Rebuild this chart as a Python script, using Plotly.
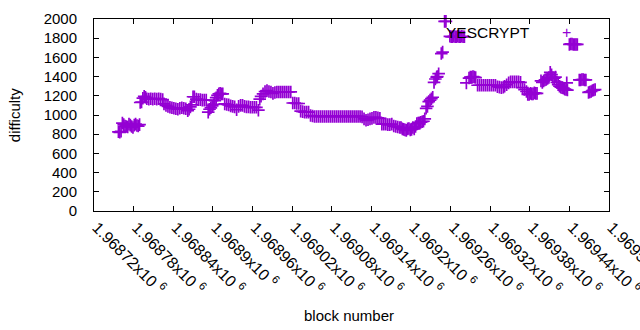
import plotly.graph_objects as go

block = [
    # ~830-900
    1968757, 1968759, 1968761, 1968763, 1968765, 1968767, 1968769, 1968771, 1968773, 1968775, 1968777,
    1968779, 1968781, 1968783, 1968785, 1968787, 1968789,
    # ~1170
    1968790, 1968792, 1968794, 1968796, 1968798, 1968800, 1968803, 1968806, 1968809, 1968812, 1968815,
    1968818, 1968821, 1968824,
    # ~1070
    1968826, 1968829, 1968832, 1968835, 1968838, 1968841, 1968844, 1968847, 1968850, 1968853, 1968856,
    1968859, 1968862, 1968864, 1968866, 1968868,
    # ~1160
    1968870, 1968872, 1968875, 1968878, 1968881, 1968884, 1968887, 1968890,
    # rise
    1968893, 1968895, 1968897, 1968899, 1968901, 1968903, 1968905, 1968907, 1968909, 1968911, 1968913, 1968915,
    # ~1090
    1968918, 1968921, 1968924, 1968927, 1968930, 1968933, 1968936, 1968939, 1968942, 1968945, 1968948,
    1968951, 1968954, 1968957, 1968960, 1968963, 1968966, 1968969,
    # ~1240
    1968971, 1968973, 1968976, 1968979, 1968982, 1968985, 1968988, 1968991, 1968994, 1968997, 1969000,
    1969003, 1969006, 1969009, 1969012, 1969015, 1969018,
    # ~1120 / ~1030
    1969021, 1969024, 1969027, 1969030, 1969033, 1969036, 1969039, 1969042, 1969045,
    # ~985
    1969048, 1969051, 1969054, 1969057, 1969060, 1969063, 1969066, 1969069, 1969072, 1969075, 1969078,
    1969081, 1969084, 1969087, 1969090, 1969093, 1969096, 1969099, 1969102, 1969105, 1969108, 1969111,
    1969114, 1969117, 1969120, 1969123, 1969126,
    # ~960 / ~900
    1969129, 1969132, 1969135, 1969138, 1969141, 1969144, 1969147, 1969150, 1969153, 1969156, 1969159,
    1969162, 1969165, 1969168, 1969171, 1969174, 1969177, 1969180, 1969183,
    # ~850
    1969185, 1969187, 1969189, 1969191, 1969193, 1969195, 1969197, 1969199, 1969201, 1969203, 1969205,
    1969207, 1969209, 1969211, 1969213, 1969215, 1969217, 1969219, 1969221,
    # steep rise
    1969223, 1969225, 1969227, 1969229, 1969231, 1969233, 1969235, 1969237, 1969239, 1969240, 1969242,
    1969246, 1969248, 1969251, 1969253,
    # ~1815
    1969259, 1969261, 1969263, 1969265, 1969267, 1969269, 1969271, 1969273, 1969275, 1969277, 1969279, 1969281,
    # ~1310
    1969284, 1969288, 1969290, 1969292, 1969294, 1969296, 1969298, 1969301, 1969304, 1969307, 1969310,
    1969313, 1969316, 1969319, 1969322, 1969325, 1969328, 1969331, 1969334, 1969337, 1969340, 1969342,
    1969345, 1969348, 1969351, 1969354, 1969357, 1969360, 1969363, 1969366,
    # ~1225
    1969369, 1969372, 1969375, 1969377, 1969379, 1969381, 1969383, 1969385, 1969387, 1969389, 1969391,
    # ~1380 bump
    1969397, 1969399, 1969401, 1969403, 1969405, 1969407, 1969409, 1969411, 1969413, 1969415, 1969417,
    1969419, 1969421, 1969423, 1969425, 1969427, 1969429, 1969431, 1969433, 1969435, 1969436, 1969437,
    # ~1735
    1969440, 1969442, 1969444, 1969446, 1969448, 1969450, 1969452,
    # ~1365
    1969455, 1969457, 1969459, 1969461, 1969463, 1969465,
    # ~1250
    1969469, 1969471, 1969473, 1969475, 1969477, 1969479,
]

difficulty = [
    825, 820, 830, 915, 900, 885, 880, 875, 905, 895, 880,
    870, 895, 905, 890, 885, 900,
    1130, 1135, 1175, 1195, 1185, 1170, 1165, 1170, 1165, 1170, 1165,
    1170, 1165, 1160,
    1115, 1100, 1090, 1080, 1075, 1070, 1065, 1060, 1070, 1075, 1070,
    1065, 1045, 1060, 1085, 1105,
    1190, 1190, 1165, 1160, 1160, 1155, 1155, 1155,
    1030, 1060, 1075, 1095, 1110, 1150, 1180, 1205, 1220, 1225, 1220, 1220,
    1115, 1110, 1105, 1095, 1090, 1085, 1055, 1090, 1100, 1100, 1090,
    1085, 1085, 1080, 1080, 1080, 1080, 1050,
    1165, 1195, 1220, 1245, 1255, 1245, 1240, 1225, 1235, 1240, 1240,
    1240, 1240, 1240, 1240, 1240, 1240,
    1125, 1125, 1120, 1120, 1040, 1035, 1030, 1030, 1030,
    995, 990, 985, 985, 985, 985, 985, 985, 985, 985, 985,
    985, 985, 985, 985, 985, 985, 985, 985, 985, 985, 985,
    985, 985, 985, 985, 980,
    960, 945, 950, 960, 965, 975, 975, 970, 965, 905, 905,
    905, 900, 900, 905, 885, 880, 875, 870,
    870, 855, 850, 845, 840, 855, 860, 845, 850, 870, 855,
    880, 910, 915, 920, 925, 930, 935, 960,
    1070, 1090, 1140, 1155, 1170, 1185, 1340, 1375, 1395, 1400, 1430,
    1640, 1655, 1975, 1975,
    1820, 1815, 1815, 1820, 1815, 1815, 1820, 1815, 1815, 1820, 1815, 1815,
    1335, 1385, 1395, 1395, 1400, 1395, 1390, 1310, 1310, 1310, 1310,
    1310, 1310, 1310, 1310, 1310, 1310, 1295, 1290, 1285, 1290, 1300,
    1315, 1335, 1345, 1345, 1345, 1345, 1345, 1340,
    1285, 1265, 1245, 1215, 1215, 1225, 1220, 1220, 1230, 1225, 1225,
    1355, 1340, 1355, 1365, 1370, 1380, 1390, 1445, 1420, 1390, 1385,
    1395, 1340, 1315, 1300, 1290, 1285, 1280, 1270, 1265, 1335, 1260,
    1735, 1740, 1740, 1735, 1735, 1735, 1735,
    1365, 1365, 1370, 1370, 1365, 1365,
    1235, 1240, 1245, 1255, 1260, 1265,
]

x_tick_vals = [1968720, 1968780, 1968840, 1968900, 1968960, 1969020, 1969080,
               1969140, 1969200, 1969260, 1969320, 1969380, 1969440, 1969500]
x_tick_labels = ["1.96872", "1.96878", "1.96884", "1.9689", "1.96896", "1.96902", "1.96908",
                 "1.96914", "1.9692", "1.96926", "1.96932", "1.96938", "1.96944", "1.9695"]
y_tick_vals = [0, 200, 400, 600, 800, 1000, 1200, 1400, 1600, 1800, 2000]

series_name = "YESCRYPT"
color = "#9400D3"
font = "Liberation Sans, Arial, sans-serif"

fig = go.Figure()
fig.add_trace(go.Scatter(
    x=block, y=difficulty, mode="markers", name=series_name, showlegend=False,
    marker=dict(symbol="cross-thin", size=9, color=color,
                line=dict(color=color, width=1.7)),
    cliponaxis=False, hoverinfo="skip",
))

fig.update_layout(
    width=640, height=330,
    margin=dict(l=94, r=31, t=19, b=119),
    paper_bgcolor="white", plot_bgcolor="white",
    font=dict(family=font, size=15, color="black"),
    hovermode=False,
    xaxis=dict(range=[1968720, 1969500], tickvals=x_tick_vals,
               ticktext=[t + "x10 <sup>6</sup>" for t in x_tick_labels],
               tickangle=45, ticks="inside", ticklen=5, tickcolor="black",
               showline=True, linecolor="black", linewidth=1, mirror="ticks",
               showgrid=False, zeroline=False, automargin=False,
               ticklabeloverflow="allow", ticklabelshift=3,
               tickfont=dict(size=16), ticklabelstandoff=0),
    yaxis=dict(range=[0, 2000], tickvals=y_tick_vals,
               ticks="inside", ticklen=5, tickcolor="black",
               showline=True, linecolor="black", linewidth=1, mirror="ticks",
               showgrid=False, zeroline=False, automargin=False,
               tickfont=dict(size=15), ticklabelstandoff=13),
    annotations=[
        dict(text="difficulty", xref="paper", yref="paper", x=-0.155, y=0.5,
             xanchor="center", yanchor="middle", textangle=-90, showarrow=False,
             font=dict(size=15)),
        dict(text="block number", xref="paper", yref="paper", x=0.496, y=-0.545,
             xanchor="center", yanchor="middle", showarrow=False, font=dict(size=15)),
        dict(text=series_name, xref="paper", yref="paper", x=0.85, y=0.93,
             xanchor="right", yanchor="middle", showarrow=False, font=dict(size=15.5)),
        dict(text="+", xref="paper", yref="paper", x=0.918, y=0.93,
             xanchor="center", yanchor="middle", showarrow=False,
             font=dict(size=16, color=color)),
    ],
)

fig.write_html("out.html", config={"displayModeBar": False, "staticPlot": True},
               post_script="document.body.style.margin='0';document.body.style.overflow='hidden';")
